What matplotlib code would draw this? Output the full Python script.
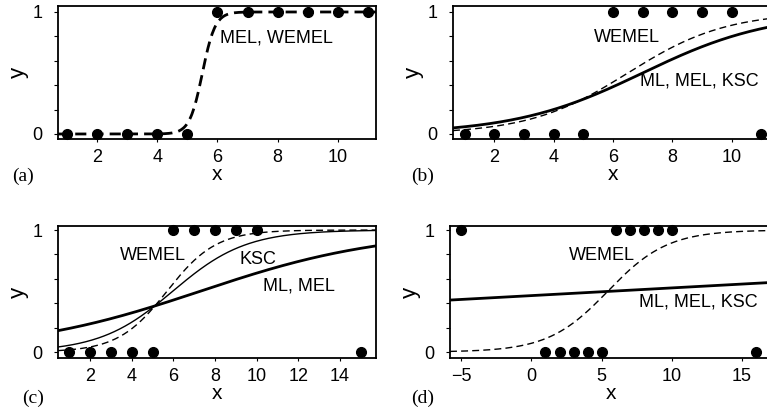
import numpy as np
import matplotlib

matplotlib.use("Agg")
import matplotlib.pyplot as plt

# observed binary responses, one pair of lists per panel
xa = [1, 2, 3, 4, 5, 6, 7, 8, 9, 10, 11]
ya = [0, 0, 0, 0, 0, 1, 1, 1, 1, 1, 1]
xb = [1, 2, 3, 4, 5, 6, 7, 8, 9, 10, 11]
yb = [0, 0, 0, 0, 0, 1, 1, 1, 1, 1, 0]
xc = [1, 2, 3, 4, 5, 6, 7, 8, 9, 10, 15]
yc = [0, 0, 0, 0, 0, 1, 1, 1, 1, 1, 0]
xd = [-5, 1, 2, 3, 4, 5, 6, 7, 8, 9, 10, 16]
yd = [1, 0, 0, 0, 0, 0, 1, 1, 1, 1, 1, 0]

# fitted logistic curves as (midpoint, slope)
fit_a_wemel = (5.5, 4.7)
fit_b_ml = (7.0, 0.46)
fit_b_wemel = (6.5, 0.60)
fit_c_ml = (7.32, 0.226)
fit_c_ksc = (5.98, 0.57)
fit_c_wemel = (5.70, 0.85)
fit_d_ml = (5.95, 0.0254)
fit_d_wemel = (5.45, 0.47)

plt.rcParams.update({
    "font.family": ["Liberation Sans", "DejaVu Sans"],
    "axes.linewidth": 1.3,
    "xtick.direction": "out", "ytick.direction": "out",
    "xtick.major.size": 2.5, "ytick.major.size": 3,
    "xtick.labelsize": 13, "ytick.labelsize": 13,
})

W, H = 767, 408
fig = plt.figure(figsize=(W / 100, H / 100), dpi=100, facecolor="white")


def px_axes(left, right, top, bottom):
    return fig.add_axes([left / W, 1 - bottom / H, (right - left) / W, (bottom - top) / H])


def logistic(p, xs):
    mid, k = p
    return 1 / (1 + np.exp(-k * (xs - mid)))


def setup(ax, xlim, ylim, xticks, tag, tag_xy):
    ax.set_xlim(*xlim)
    ax.set_ylim(*ylim)
    ax.set_xticks(xticks)
    ax.set_yticks([0, 0.2, 0.4, 0.6, 0.8, 1])
    ax.set_yticklabels(["0", "", "", "", "", "1"])
    ax.tick_params(axis="x", pad=5)
    ax.tick_params(axis="y", pad=8)
    ax.set_xlabel("x", fontsize=15, labelpad=-1)
    ax.set_ylabel("y", fontsize=16, labelpad=3)
    fig.text(tag_xy[0] / W, 1 - tag_xy[1] / H, tag, fontsize=14,
             family="Liberation Serif", ha="left", va="center")


def dots(ax, xs, ys):
    ax.plot(xs, ys, "o", color="black", ms=7, clip_on=False, zorder=5)


def curve(ax, p, style, lw):
    xs = np.linspace(*ax.get_xlim(), 300)
    if style == "dash":
        ax.plot(xs, logistic(p, xs), color="black", lw=lw, dashes=(5, 3))
    else:
        ax.plot(xs, logistic(p, xs), color="black", lw=lw)


# (a)
ax = px_axes(58, 376, 6, 139)
setup(ax, (0.7, 11.27), (-0.041, 1.049), [2, 4, 6, 8, 10], "(a)", (12, 176))
ax.plot(np.linspace(0.7, 11.27, 300), logistic(fit_a_wemel, np.linspace(0.7, 11.27, 300)),
        color="black", lw=2, dashes=(4, 2.2))
dots(ax, xa, ya)
ax.text(6.1, 0.787, "MEL, WEMEL", fontsize=13, va="center")

# (b) -- right edge of this panel runs off the figure
ax = px_axes(453, 773, 6, 139)
setup(ax, (0.6, 11.4), (-0.041, 1.049), [2, 4, 6, 8, 10], "(b)", (411, 176))
curve(ax, fit_b_wemel, "dash", 1.0)
curve(ax, fit_b_ml, "solid", 2.0)
dots(ax, xb, yb)
ax.text(5.34, 0.79, "WEMEL", fontsize=13, va="center")
ax.text(6.9, 0.434, "ML, MEL, KSC", fontsize=13, va="center")

# (c)
ax = px_axes(58, 376, 226, 358)
setup(ax, (0.46, 15.73), (-0.049, 1.033), [2, 4, 6, 8, 10, 12, 14], "(c)", (22, 398))
curve(ax, fit_c_wemel, "dash", 1.0)
curve(ax, fit_c_ksc, "solid", 1.0)
curve(ax, fit_c_ml, "solid", 2.0)
dots(ax, xc, yc)
ax.text(3.44, 0.79, "WEMEL", fontsize=13, va="center")
ax.text(9.17, 0.755, "KSC", fontsize=13, va="center")
ax.text(10.32, 0.544, "ML, MEL", fontsize=13, va="center")

# (d) -- right edge also cut off
ax = px_axes(450, 773, 226, 358)
setup(ax, (-5.8, 17.2), (-0.049, 1.033), [-5, 0, 5, 10, 15], "(d)", (411, 398))
curve(ax, fit_d_wemel, "dash", 1.0)
curve(ax, fit_d_ml, "solid", 2.0)
dots(ax, xd, yd)
ax.text(2.65, 0.79, "WEMEL", fontsize=13, va="center")
ax.text(7.64, 0.413, "ML, MEL, KSC", fontsize=13, va="center")

fig.savefig("out.png", dpi=100, facecolor="white")
